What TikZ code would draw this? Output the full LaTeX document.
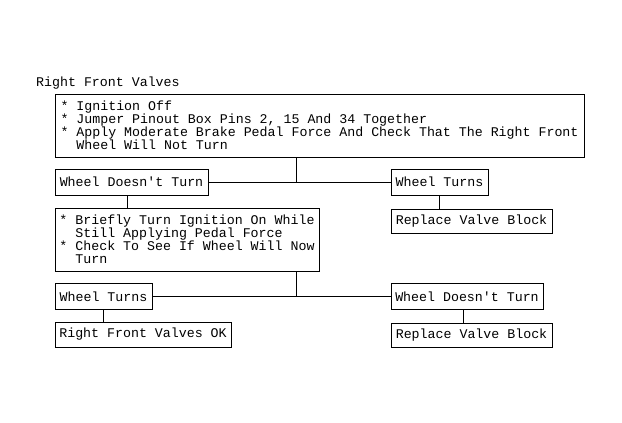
\documentclass[tikz,border=0pt]{standalone}
\usepackage{fontspec}
\newfontfamily\monof{Liberation Mono}
\newcommand\monosel{\monof\fontsize{13.28}{12.9}\selectfont\spaceskip=0.6em\relax\xspaceskip=0.6em\relax}
\begin{document}
\begin{tikzpicture}[x=1pt,y=-1pt,
  txt/.style={font=\monosel, inner sep=0pt},
  box/.style={draw, line width=1pt, anchor=north west, inner xsep=3pt, inner ysep=0pt,
    align=left, outer sep=0pt, font=\monosel},
  link/.style={line width=1pt}]
\useasboundingbox (0,0) rectangle (622,423);
\node[txt, anchor=base west] (title) at (36,86) {Right Front Valves};
\node[box, minimum width=529pt, minimum height=63pt] (b1) at (55,94)
  {{*} Ignition Off\\{*} Jumper Pinout Box Pins 2, 15 And 34 Together\\{*} Apply Moderate Brake Pedal Force And Check That The Right Front\\\phantom{*~}Wheel Will Not Turn};
\node[box, minimum width=153pt, minimum height=26pt] (wdt1) at (55,169) {Wheel Doesn't Turn};
\node[box, minimum width=97pt, minimum height=26pt] (wt1) at (391,169) {Wheel Turns};
\node[box, minimum width=161pt, minimum height=24pt] (rep1) at (391,209) {Replace Valve Block};
\node[box, minimum width=264pt, minimum height=63pt] (b2) at (55,208)
  {{*} Briefly Turn Ignition On While\\\phantom{*~}Still Applying Pedal Force\\{*} Check To See If Wheel Will Now\\\phantom{*~}Turn};
\node[box, minimum width=97pt, minimum height=26pt] (wt2) at (55,283.5) {Wheel Turns};
\node[box, minimum width=176pt, minimum height=25pt] (ok) at (55,322) {Right Front Valves OK};
\node[box, minimum width=152pt, minimum height=26pt] (wdt2) at (391,283.5) {Wheel Doesn't Turn};
\node[box, minimum width=161pt, minimum height=24pt] (rep2) at (391,323) {Replace Valve Block};
\coordinate (j1) at (296,182);
\coordinate (j2) at (296,296.5);
\draw[link] (wdt1.east) -- (wt1.west);
\draw[link] (b1.south -| j1) -- (j1);
\draw[link] (wt1.south) -- (wt1.south |- rep1.north);
\draw[link] ([xshift=72pt]wdt1.south west) -- ([xshift=72pt]wdt1.south west |- b2.north);
\draw[link] (wt2.east) -- (wdt2.west);
\draw[link] (b2.south -| j2) -- (j2);
\draw[link] (wt2.south) -- (wt2.south |- ok.north);
\draw[link] ([xshift=72pt]wdt2.south west) -- ([xshift=72pt]wdt2.south west |- rep2.north);
\end{tikzpicture}
\end{document}
